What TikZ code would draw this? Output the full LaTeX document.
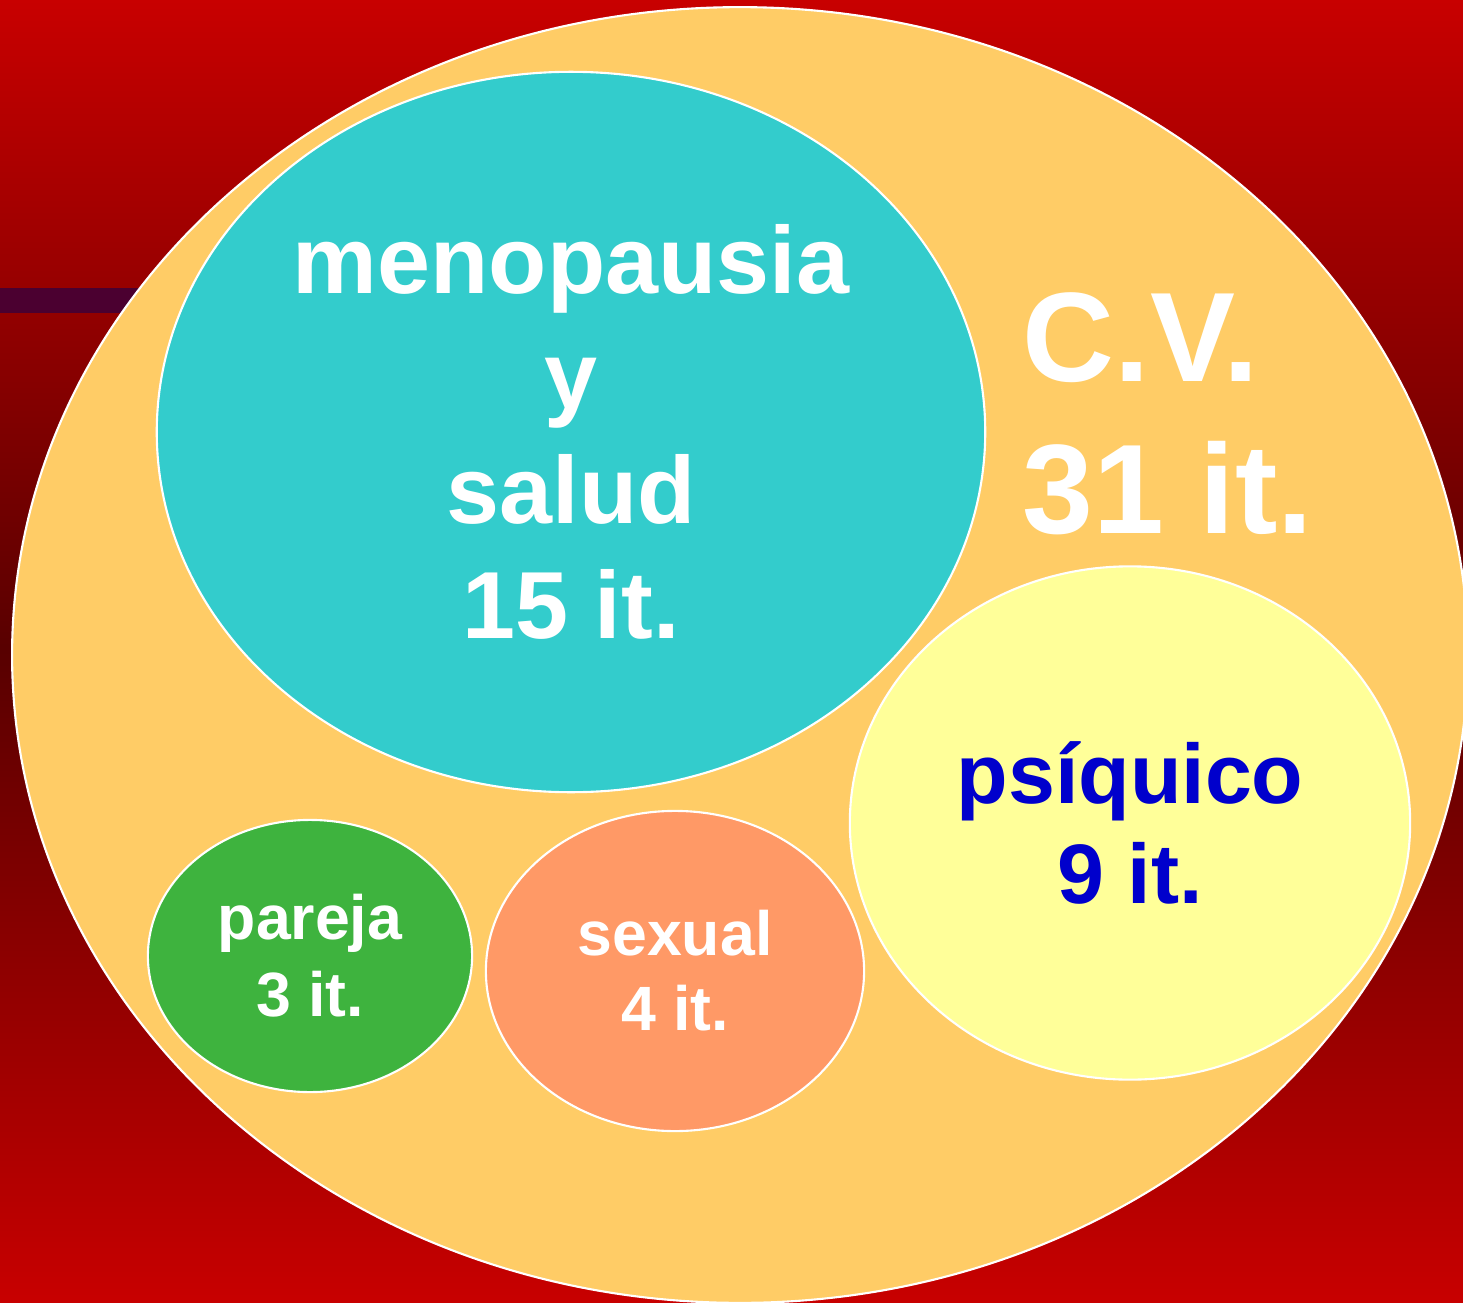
\documentclass[tikz,border=0pt]{standalone}
\usepackage{fontspec}
\setmainfont{Liberation Sans}
\usetikzlibrary{shapes.geometric}
\definecolor{bgred}{RGB}{200,0,0}
\definecolor{bgdark}{RGB}{88,0,0}
\definecolor{barpurple}{RGB}{75,0,48}
\definecolor{cvorange}{RGB}{255,204,102}
\definecolor{menoteal}{RGB}{51,204,204}
\definecolor{psiyellow}{RGB}{255,255,153}
\definecolor{pargreen}{RGB}{62,179,62}
\definecolor{sexsalmon}{RGB}{255,153,102}
\definecolor{psiblue}{RGB}{0,0,204}

\begin{document}
\begin{tikzpicture}[x=0.01cm, y=-0.01cm,
    blob/.style={ellipse, draw=white, line width=0.6pt, inner sep=0pt, align=center}]
    \useasboundingbox (0,0) rectangle (1463,1303);
    \clip (0,0) rectangle (1463,1303);

    % Background
    \shade[top color=bgred, bottom color=bgdark] (0,0) rectangle (1463,652);
    \shade[top color=bgdark, bottom color=bgred] (0,651) rectangle (1463,1303);
    \fill[barpurple] (0,288) rectangle (200,313);

    % Quality of life (whole scale)
    \node[blob, fill=cvorange, minimum width=14.55cm, minimum height=12.95cm] (cv) at (740,655) {};
    \node[inner sep=0pt, align=left, text=white,
        font=\fontsize{36.2}{43.2}\selectfont\bfseries] (cvlabel) at (1168,414) {C.V.\\31 it.};

    % Menopause and health
    \node[blob, fill=menoteal, minimum width=8.28cm, minimum height=7.2cm, text=white,
        font=\fontsize{27.1}{32.7}\selectfont\bfseries] (meno) at (571,432) {menopausia\\y\\salud\\15 it.};

    % Psychic
    \node[blob, fill=psiyellow, minimum width=5.6cm, minimum height=5.13cm, text=psiblue,
        font=\fontsize{24}{28.5}\selectfont\bfseries] (psi) at (1130,823) {psíquico\\9 it.};

    % Couple
    \node[blob, fill=pargreen, minimum width=3.24cm, minimum height=2.72cm, text=white,
        font=\fontsize{17.8}{21.9}\selectfont\bfseries] (pareja) at (310,956) {pareja\\3 it.};

    % Sexual
    \node[blob, fill=sexsalmon, minimum width=3.78cm, minimum height=3.2cm, text=white,
        font=\fontsize{17.8}{21.3}\selectfont\bfseries] (sexual) at (675,971) {sexual\\4 it.};
\end{tikzpicture}
\end{document}
